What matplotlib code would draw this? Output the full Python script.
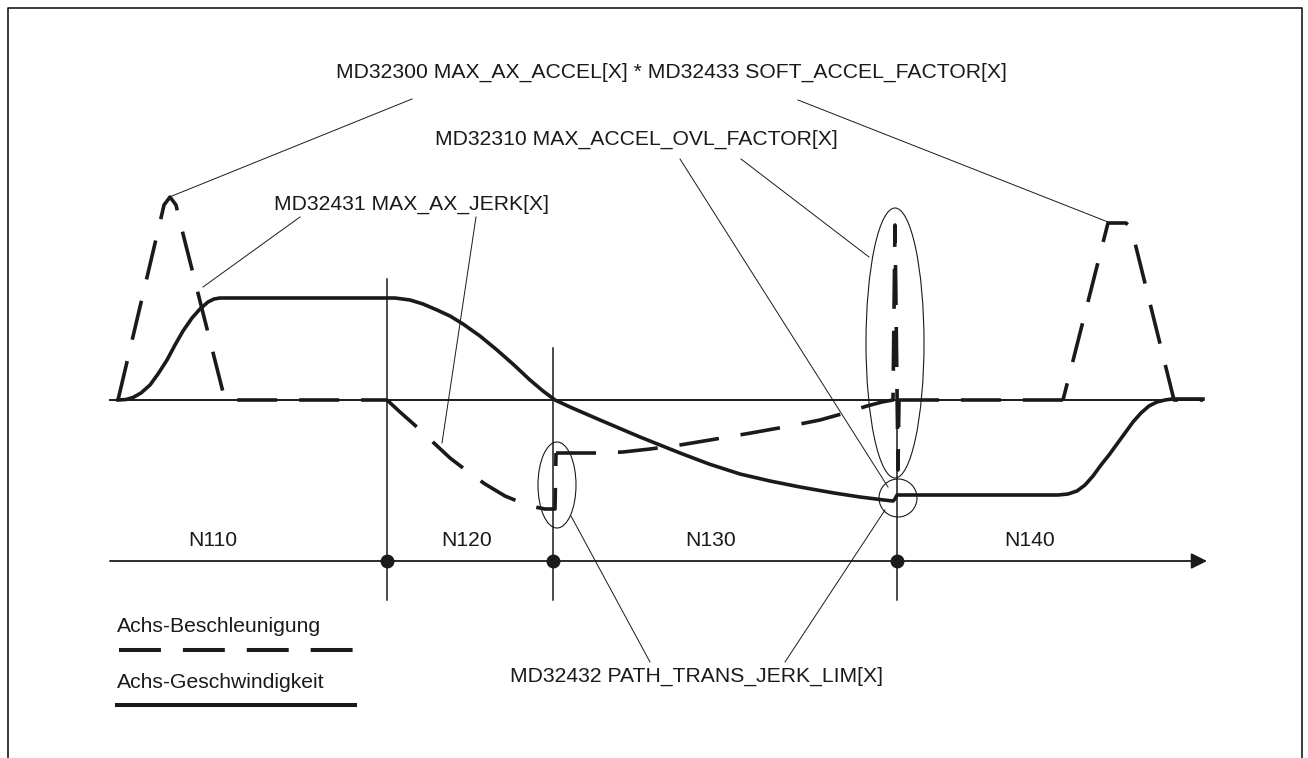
import matplotlib
matplotlib.use("Agg")
import matplotlib.pyplot as plt
from matplotlib.patches import Ellipse

plt.rcParams['font.family'] = ['Liberation Sans', 'DejaVu Sans']
plt.rcParams['lines.scale_dashes'] = False

INK = '#1a1a1a'
FS = 15.2

# Achs-Beschleunigung (dashed), drawing units = pixels of the sheet
accel_x = [118, 161, 164, 170, 176, 179, 225, 387, 400, 418, 435, 450, 467, 485, 505, 522,
           535, 545, 555, 556, 600, 623, 650, 680, 710, 751, 790, 820, 845, 867, 882, 893,
           895, 898, 899, 1063, 1108, 1126, 1131, 1135, 1174, 1203]
accel_y = [400, 218, 205, 197, 205, 218, 400, 400, 412, 428, 444, 458, 471, 484, 496, 503,
           507, 509, 509, 453, 453, 452, 449, 445, 440, 433, 426, 420, 413, 406, 402, 400,
           225, 470, 400, 400, 223, 223, 228, 243, 400, 400]
# index where the dash pattern restarts (start, end, dash offset in pt)
accel_pieces = [(0, 7, 0), (7, 19, 0), (19, 34, 0), (34, 35, 0), (35, 41, 16.4)]

# Achs-Geschwindigkeit (solid)
vel_x = [118, 126, 133, 141, 150, 158, 167, 175, 183, 192, 200, 208, 214, 220,
         395, 410, 423, 437, 450, 463, 480, 497, 514, 530, 543, 555,
         570, 600, 640, 680, 709, 740, 770, 800, 834, 860, 884, 893, 895, 897,
         1058, 1068, 1077, 1085, 1093, 1101, 1109, 1117, 1125, 1133, 1141, 1149, 1157,
         1165, 1172, 1203]
vel_y = [400, 399.5, 397.5, 393, 385, 374, 360, 345, 331, 318, 309, 302, 299, 298,
         298, 300, 304, 310, 316, 324, 336, 350, 365, 380, 391, 400,
         407, 420, 437, 453, 464, 474, 481, 487, 493, 497, 500, 501, 499, 495,
         495, 494, 491, 485, 476, 465, 455, 444, 433, 422, 413, 406, 402,
         400, 399, 399]

# block boundaries on the time axis
block_x = [387, 553, 897]
block_top = [279, 348, 400]
block_names = ['N110', 'N120', 'N130', 'N140']
block_name_x = [213, 467, 711, 1030]

labels = [
    ('MD32300 MAX_AX_ACCEL[X] * MD32433 SOFT_ACCEL_FACTOR[X]', 671, 72),
    ('MD32310 MAX_ACCEL_OVL_FACTOR[X]', 636, 139),
    ('MD32431 MAX_AX_JERK[X]', 411, 204),
    ('MD32432 PATH_TRANS_JERK_LIM[X]', 697, 676),
]

leaders = [
    ((412, 99), (172, 196)),
    ((798, 100), (1108, 222)),
    ((300, 217), (203, 287)),
    ((476, 217), (442, 443)),
    ((680, 159), (888, 487)),
    ((741, 159), (869, 257)),
    ((650, 662), (571, 516)),
    ((785, 662), (885, 510)),
]

# (center x, center y, width, height)
marks = [(557, 485, 38, 86), (895, 343, 58, 270), (898, 498, 38, 38)]

fig = plt.figure(figsize=(13.08, 7.58), dpi=100)
ax = fig.add_axes([0, 0, 1, 1])
ax.set_xlim(0, 1308)
ax.set_ylim(758, 0)
ax.axis('off')

# frame
ax.plot([8, 8, 1302, 1302], [758, 8, 8, 758], color=INK, lw=1.2)

# zero line and time axis
ax.plot([110, 1203], [400, 400], color=INK, lw=1.4)
ax.annotate('', xy=(1207, 561), xytext=(110, 561),
            arrowprops=dict(arrowstyle='-|>', color=INK, lw=1.3, mutation_scale=24,
                            shrinkA=0, shrinkB=0))
for bx, bt in zip(block_x, block_top):
    ax.plot([bx, bx], [bt, 600], color=INK, lw=1.1)
    ax.plot(bx, 561, 'o', color=INK, ms=9)
for name, nx in zip(block_names, block_name_x):
    ax.text(nx, 541, name, fontsize=FS, color=INK, ha='center', va='center')

# curves
ax.plot(vel_x, vel_y, color=INK, lw=2.6, solid_joinstyle='round')
for i0, i1, off in accel_pieces:
    ax.plot(accel_x[i0:i1 + 1], accel_y[i0:i1 + 1], color=INK, lw=2.6,
            linestyle=(off, (28.8, 15.8)), dash_capstyle='butt', dash_joinstyle='round')

# annotations
for txt, tx, ty in labels:
    ax.text(tx, ty, txt, fontsize=FS, color=INK, ha='center', va='center')
for (x0, y0), (x1, y1) in leaders:
    ax.plot([x0, x1], [y0, y1], color=INK, lw=0.7)
for cx, cy, w, h in marks:
    ax.add_patch(Ellipse((cx, cy), w, h, fill=False, edgecolor=INK, lw=0.8))

# legend
ax.text(117, 627, 'Achs-Beschleunigung', fontsize=FS, color=INK, ha='left', va='center')
ax.plot([119, 353], [650, 650], color=INK, lw=2.9, dashes=(30.2, 15.8))
ax.text(117, 683, 'Achs-Geschwindigkeit', fontsize=FS, color=INK, ha='left', va='center')
ax.plot([117, 355], [705, 705], color=INK, lw=2.9)

fig.savefig('out.png', dpi=100)
